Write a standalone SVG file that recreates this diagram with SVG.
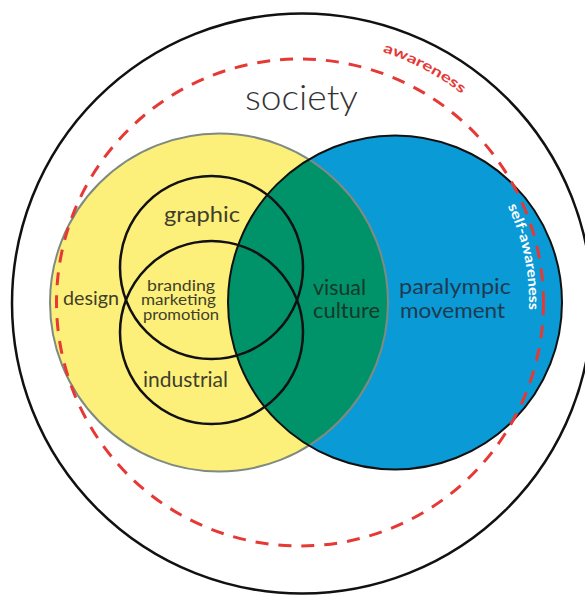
<svg xmlns="http://www.w3.org/2000/svg" width="585" height="596" viewBox="0 0 585 596">
  <style>
    .lbl { font-family: "Lato", "Liberation Sans", sans-serif; font-weight: 300; }
    .small { font-weight: 400; }
    .ring { fill: none; stroke: #111; stroke-width: 2.5; }
    .arc-txt { font-family: "Lato", "Liberation Sans", sans-serif; font-weight: bold; font-size: 14px; }
  </style>
  <defs>
    <clipPath id="clip-design">
      <circle cx="219" cy="302.5" r="169"/>
    </clipPath>
    <!-- clockwise circles used as baselines for curved labels -->
    <path id="arc-outer" d="M 300,38.5 A 264,264 0 1 1 300,566.5 A 264,264 0 1 1 300,38.5"/>
    <path id="arc-inner" d="M 300,73.5 A 229,229 0 1 1 300,531.5 A 229,229 0 1 1 300,73.5"/>
  </defs>

  <rect width="585" height="596" fill="#ffffff"/>

  <!-- society -->
  <g id="society">
    <circle cx="302" cy="303.5" r="290" fill="none" stroke="#111" stroke-width="2.5"/>
    <text class="lbl" x="245" y="110" font-size="35" fill="#333333" textLength="113" lengthAdjust="spacingAndGlyphs">society</text>
  </g>

  <!-- design -->
  <g id="design">
    <circle cx="219" cy="302.5" r="169" fill="#fdf07a"/>
    <text class="lbl small" x="63" y="305" font-size="19" fill="#3f3f2a" textLength="56" lengthAdjust="spacingAndGlyphs">design</text>
  </g>

  <!-- paralympic movement -->
  <g id="paralympic">
    <circle cx="395" cy="302.5" r="167" fill="#0a9ad6"/>
    <text class="lbl small" x="399" y="294" font-size="21" fill="#1f3b50" textLength="112" lengthAdjust="spacingAndGlyphs">paralympic</text>
    <text class="lbl small" x="400" y="318" font-size="21" fill="#1f3b50" textLength="105" lengthAdjust="spacingAndGlyphs">movement</text>
  </g>

  <!-- visual culture (overlap) -->
  <g id="visual-culture">
    <circle cx="395" cy="302.5" r="167" fill="#00936a" clip-path="url(#clip-design)"/>
    <circle cx="219" cy="302.5" r="169" fill="none" stroke="#7f8a80" stroke-width="2"/>
    <circle cx="395" cy="302.5" r="167" fill="none" stroke="#111" stroke-width="2"/>
    <text class="lbl small" x="313" y="295" font-size="21" fill="#17382b" textLength="53" lengthAdjust="spacingAndGlyphs">visual</text>
    <text class="lbl small" x="313" y="318" font-size="21" fill="#17382b" textLength="67" lengthAdjust="spacingAndGlyphs">culture</text>
  </g>

  <!-- awareness ring -->
  <g id="awareness">
    <circle cx="300" cy="302.5" r="243.5" fill="none" stroke="#e53935" stroke-width="3" stroke-dasharray="13 10"/>
    <text class="arc-txt" fill="#e53935">
      <textPath href="#arc-outer" startOffset="84" textLength="90" lengthAdjust="spacingAndGlyphs">awareness</textPath>
    </text>
    <text class="arc-txt" fill="#ffffff" font-size="13">
      <textPath href="#arc-inner" startOffset="260" textLength="107" lengthAdjust="spacingAndGlyphs">self-awareness</textPath>
    </text>
  </g>

  <!-- graphic -->
  <g id="graphic">
    <circle class="ring" cx="211.5" cy="267.5" r="91.5"/>
    <text class="lbl small" x="164" y="222" font-size="21" fill="#3f3f2a" textLength="76" lengthAdjust="spacingAndGlyphs">graphic</text>
  </g>

  <!-- industrial -->
  <g id="industrial">
    <circle class="ring" cx="211.5" cy="332.5" r="91.5"/>
    <text class="lbl small" x="143" y="387" font-size="21" fill="#3f3f2a" textLength="85" lengthAdjust="spacingAndGlyphs">industrial</text>
  </g>

  <!-- branding / marketing / promotion -->
  <g id="branding">
    <text class="lbl small" x="147" y="291" font-size="14.5" fill="#3f3f2a" textLength="68" lengthAdjust="spacingAndGlyphs">branding</text>
    <text class="lbl small" x="141" y="305" font-size="14.5" fill="#3f3f2a" textLength="75" lengthAdjust="spacingAndGlyphs">marketing</text>
    <text class="lbl small" x="143" y="320" font-size="14.5" fill="#3f3f2a" textLength="76" lengthAdjust="spacingAndGlyphs">promotion</text>
  </g>
</svg>
